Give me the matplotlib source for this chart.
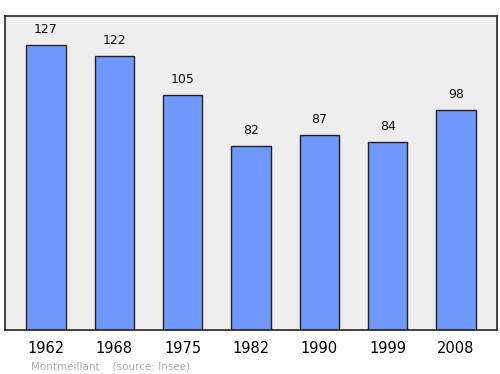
import matplotlib
matplotlib.use("Agg")
import matplotlib.pyplot as plt
import numpy as np

years = ["1962", "1968", "1975", "1982", "1990", "1999", "2008"]
population = [127, 122, 105, 82, 87, 84, 98]

fig = plt.figure(figsize=(5, 3.74), dpi=100)
ax = fig.add_axes([0.01, 0.118, 0.984, 0.839])
ax.set_facecolor("#eeeeee")

x = np.arange(len(years))
bars = ax.bar(x, population, 0.58, color="#7099ff", edgecolor="#222222", linewidth=1.0)
for bar, val in zip(bars, population):
    ax.text(bar.get_x() + bar.get_width() / 2, val + 4, str(val),
            ha="center", va="bottom", fontsize=9, color="#111111")

ax.set_xlim(-0.6, 6.6)
ax.set_ylim(0, 140)
ax.set_yticks([])
ax.set_xticks(x)
ax.set_xticklabels(years, fontsize=10.5)
ax.tick_params(axis="x", length=0, pad=8)
for s in ax.spines.values():
    s.set_color("#222222")
    s.set_linewidth(1.2)

fig.text(0.062, 0.012, "Montmeillant    (source: Insee)", fontsize=7.5, color="#aaaaaa")

plt.savefig("out.png", dpi=100)
plt.close()
